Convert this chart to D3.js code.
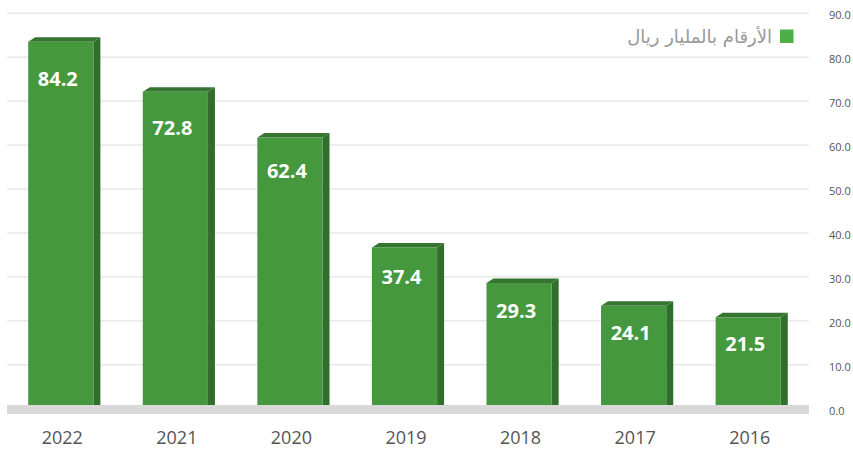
<!DOCTYPE html>
<html>
    <head>
        <meta charset="utf-8">
        <script src="https://d3js.org/d3.v7.min.js"></script>
        <style>
            body { margin: 0; background: #fff; }
        </style>
    </head>
    <body>
        <script type="text/javascript">
            var years = ['2022', '2021', '2020', '2019', '2018', '2017', '2016']
            var values = [84.2, 72.8, 62.4, 37.4, 29.3, 24.1, 21.5]
            var yTicks = [0, 10, 20, 30, 40, 50, 60, 70, 80, 90]
            var legendText = 'الأرقام بالمليار ريال'

            var w = 853
            var h = 450
            var left = 7
            var right = 809
            var depthX = 7
            var depthY = 4.5

            var svg = d3.select('body').append('svg').attr('width', w).attr('height', h)

            var xScale = d3.scaleBand()
                .domain(years)
                .range([left, right])
                .paddingInner(0.37)
                .paddingOuter(0.185)

            var yScale = d3.scaleLinear()
                .domain([0, 90])
                .range([411.8, 16.2])

            // back wall gridlines, shifted by the depth
            svg.selectAll('line.grid')
                .data(yTicks)
                .enter()
                .append('line')
                .attr('class', 'grid')
                .attr('x1', left)
                .attr('x2', right)
                .attr('y1', function(d) { return yScale(d) - 3 })
                .attr('y2', function(d) { return yScale(d) - 3 })
                .attr('stroke', '#dddddd')
                .attr('stroke-width', 1)

            var yAxis = d3.axisRight(yScale)
                .tickValues(yTicks)
                .tickSize(0)
                .tickPadding(0)
                .tickFormat(d3.format('.1f'))

            var ya = svg.append('g')
                .attr('transform', 'translate(829,-1)')
                .call(yAxis)
            ya.select('.domain').remove()
            ya.selectAll('text')
                .attr('font-family', 'Open Sans, sans-serif')
                .attr('font-size', '11px')
                .attr('fill', '#555')

            var frontW = xScale.bandwidth() - depthX
            var bars = svg.selectAll('g.bar')
                .data(values)
                .enter()
                .append('g')
                .attr('class', 'bar')

            // side face
            bars.append('path')
                .attr('fill', '#316d2b')
                .attr('d', function(d, i) {
                    var x1 = xScale(years[i]) + frontW
                    var y0 = yScale(0)
                    var y1 = yScale(d)
                    return 'M' + x1 + ',' + y1 + 'L' + (x1 + depthX) + ',' + (y1 - depthY) +
                        'L' + (x1 + depthX) + ',' + (y0 - depthY) + 'L' + x1 + ',' + y0 + 'Z'
                })

            // top face
            bars.append('path')
                .attr('fill', '#357530')
                .attr('d', function(d, i) {
                    var x0 = xScale(years[i])
                    var x1 = x0 + frontW
                    var y1 = yScale(d)
                    return 'M' + x0 + ',' + y1 + 'L' + (x0 + depthX) + ',' + (y1 - depthY) +
                        'L' + (x1 + depthX) + ',' + (y1 - depthY) + 'L' + x1 + ',' + y1 + 'Z'
                })

            // front face
            bars.append('rect')
                .attr('x', function(d, i) { return xScale(years[i]) })
                .attr('y', function(d) { return yScale(d) })
                .attr('width', frontW)
                .attr('height', function(d) { return yScale(0) - yScale(d) })
                .attr('fill', '#45983e')

            // floor
            svg.append('rect')
                .attr('x', left)
                .attr('y', 405)
                .attr('width', right - left)
                .attr('height', 9)
                .attr('fill', '#d9d9d9')

            bars.append('text')
                .text(function(d) { return d.toFixed(1) })
                .attr('x', function(d, i) { return xScale(years[i]) + frontW / 2 - 3 })
                .attr('y', function(d) {
                    var hgt = yScale(0) - yScale(d)
                    return yScale(d) + 30 + 0.04 * hgt
                })
                .attr('text-anchor', 'middle')
                .attr('font-family', 'Open Sans, sans-serif')
                .attr('font-weight', 'bold')
                .attr('font-size', '20px')
                .attr('fill', '#ffffff')

            svg.selectAll('text.year')
                .data(years)
                .enter()
                .append('text')
                .attr('class', 'year')
                .text(function(d) { return d })
                .attr('x', function(d) { return xScale(d) + xScale.bandwidth() / 2 - 2 })
                .attr('y', 444)
                .attr('text-anchor', 'middle')
                .attr('font-family', 'Open Sans, sans-serif')
                .attr('font-size', '18px')
                .attr('fill', '#555')

            // legend
            svg.append('rect')
                .attr('x', 780)
                .attr('y', 29.5)
                .attr('width', 13.5)
                .attr('height', 13.5)
                .attr('fill', '#4caf48')
            svg.append('text')
                .text(legendText)
                .attr('x', 772)
                .attr('y', 43)
                .attr('text-anchor', 'start')
                .attr('direction', 'rtl')
                .attr('font-family', 'DejaVu Sans, sans-serif')
                .attr('font-size', '18px')
                .attr('fill', '#999')
        </script>
    </body>
</html>
